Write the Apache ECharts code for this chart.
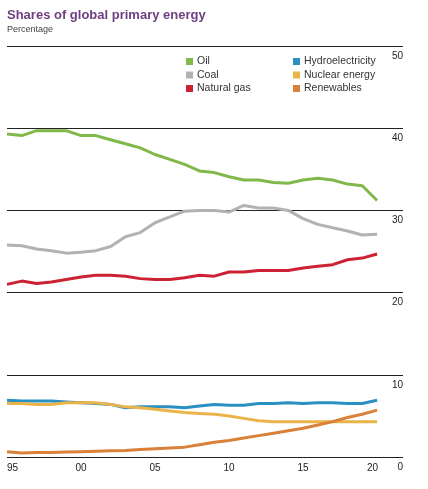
<!DOCTYPE html>
<html><head><meta charset="utf-8">
<script src="https://cdn.jsdelivr.net/npm/echarts@6/dist/echarts.min.js"></script>
<style>html,body{margin:0;padding:0;background:#fff}#c{width:428px;height:489px}</style>
</head><body><div id="c"></div>
<script>
const years = [1995,1996,1997,1998,1999,2000,2001,2002,2003,2004,2005,2006,2007,2008,2009,2010,2011,2012,2013,2014,2015,2016,2017,2018,2019,2020];
const oil = [39.3,39.1,39.7,39.7,39.7,39.1,39.1,38.6,38.1,37.6,36.8,36.2,35.6,34.8,34.6,34.1,33.7,33.7,33.4,33.3,33.7,33.9,33.7,33.2,33.0,31.2];
const coal = [25.8,25.7,25.3,25.1,24.8,24.9,25.1,25.6,26.8,27.3,28.5,29.2,29.9,30.0,30.0,29.8,30.6,30.3,30.3,30.0,29.0,28.3,27.9,27.5,27.0,27.1];
const gas = [21.0,21.4,21.1,21.3,21.6,21.9,22.1,22.1,22.0,21.7,21.6,21.6,21.8,22.1,22.0,22.5,22.5,22.7,22.7,22.7,23.0,23.2,23.4,24.0,24.2,24.7];
const hydro = [6.9,6.8,6.8,6.8,6.7,6.6,6.5,6.4,6.0,6.1,6.1,6.1,6.0,6.2,6.4,6.3,6.3,6.5,6.5,6.6,6.5,6.6,6.6,6.5,6.5,6.9];
const nuclear = [6.5,6.5,6.4,6.4,6.6,6.6,6.6,6.4,6.1,6.0,5.8,5.6,5.4,5.3,5.2,5.0,4.7,4.4,4.3,4.3,4.3,4.3,4.3,4.3,4.3,4.3];
const renew = [0.65,0.5,0.55,0.55,0.6,0.65,0.7,0.75,0.8,0.9,1.0,1.1,1.2,1.5,1.8,2.0,2.3,2.6,2.9,3.2,3.5,3.9,4.3,4.8,5.2,5.7];
const names = ['Oil','Coal','Natural gas','Hydroelectricity','Nuclear energy','Renewables'];
const colors = ['#80b84a','#b2b2b2','#cc2234','#2a8fc1','#eab44a','#d98139'];
const yTicks = [0,10,20,30,40,50];

const dataSets = [oil,coal,gas,hydro,nuclear,renew];
const font = 'Liberation Sans, Arial, sans-serif';
const chart = echarts.init(document.getElementById('c'));
const legendBase = {orient:'vertical',top:51,itemWidth:7,itemHeight:7,itemGap:2.5,icon:'rect',
     textStyle:{fontFamily:font,fontSize:10.5,color:'#333',padding:[0,0,0,-1]}};
chart.setOption({
  animation:false,
  title:{text:'Shares of global primary energy',subtext:'Percentage',left:2,top:4,
    textStyle:{fontFamily:font,fontSize:13,fontWeight:'bold',color:'#6e3f80'},
    subtextStyle:{fontFamily:font,fontSize:9,color:'#444'},itemGap:3},
  legend:[
    Object.assign({data:names.slice(0,3),left:181},legendBase),
    Object.assign({data:names.slice(3),left:288},legendBase)
  ],
  grid:{left:7,right:25,top:46,bottom:32},
  xAxis:{type:'value',min:1995,max:2021.75,interval:5,
    axisLine:{show:false},axisTick:{show:false},splitLine:{show:false},
    axisLabel:{showMaxLabel:false,
      formatter:v=> v===2020 ? '{r|20}' : String(v).slice(2),
      rich:{r:{fontFamily:font,fontSize:10,color:'#222',padding:[0,9,0,0]}},
      fontFamily:font,fontSize:10,color:'#222',margin:6,alignMinLabel:'left'}},
  yAxis:{type:'value',position:'right',min:yTicks[0],max:yTicks[yTicks.length-1],interval:10,
    axisLine:{show:false},axisTick:{show:false},
    splitLine:{lineStyle:{color:'#222',width:1}},
    axisLabel:{inside:true,margin:0,verticalAlign:'top',padding:[5,0,0,0],fontFamily:font,fontSize:10,color:'#222'}},
  series: names.map((n,i)=>({name:n,type:'line',data:years.map((y,j)=>[y,dataSets[i][j]]),
    showSymbol:false,symbol:'none',lineStyle:{width:3,color:colors[i]},itemStyle:{color:colors[i]},z:3}))
});
</script></body></html>
